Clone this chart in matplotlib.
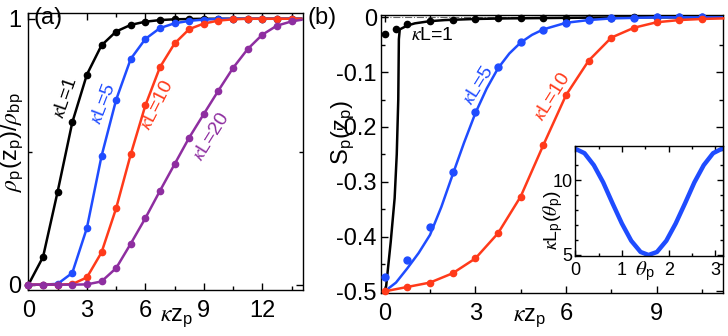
import matplotlib as mpl
import matplotlib.pyplot as plt
from matplotlib.ticker import MultipleLocator, FixedLocator, FixedFormatter

# ---- panel (a): rho_p(z_p)/rho_bp, markers every 0.75
za = [0, 0.75, 1.5, 2.25, 3, 3.75, 4.5, 5.25, 6, 6.75, 7.5, 8.25, 9, 9.75,
      10.5, 11.25, 12, 12.75, 13.5, 14.0]
rho_1 = [0, 0.104, 0.35, 0.61, 0.79, 0.90, 0.952, 0.977, 0.989, 0.995, 0.998,
         0.999, 1, 1, 1, 1, 1, 1, 1, 1]
rho_5 = [0, 0, 0.003, 0.044, 0.213, 0.483, 0.695, 0.849, 0.924, 0.965, 0.983,
         0.992, 0.997, 0.999, 1, 1, 1, 1, 1, 1]
rho_10 = [0, 0, 0, 0.002, 0.027, 0.121, 0.287, 0.49, 0.674, 0.818, 0.907,
          0.961, 0.982, 0.993, 0.998, 1, 1, 1, 1, 1]
rho_20 = [0, 0, 0, 0, 0.001, 0.012, 0.062, 0.154, 0.25, 0.353, 0.453, 0.553,
          0.642, 0.73, 0.815, 0.886, 0.94, 0.974, 0.99, 0.996]

# ---- panel (b): S_p(z_p), simulation points + theory lines
zb_pts1 = [0, 0.375, 0.75, 1.5, 2.25, 3, 3.75, 4.5, 5.25, 6, 6.75, 7.5, 8.25,
           9, 9.75, 10.5]
S_pts1 = [-0.030, -0.022, -0.012, -0.006, -0.004, -0.003, -0.002, -0.002,
          -0.001, -0.001, -0.001, -0.001, 0, 0, 0, 0]
zb_line1 = [0, 0.05, 0.2, 0.33, 0.4, 0.45, 0.47, 0.5, 0.75, 1.0, 1.5, 2, 3, 4,
            6, 8, 11.2]
S_line1 = [-0.5, -0.49, -0.41, -0.33, -0.25, -0.15, -0.04, -0.022, -0.015,
           -0.011, -0.007, -0.005, -0.003, -0.002, -0.001, 0, 0]

zb_pts = [0, 0.75, 1.5, 2.25, 3, 3.75, 4.5, 5.25, 6, 6.75, 7.5, 8.25, 9, 9.75,
          10.5]
S_pts5 = [-0.473, -0.442, -0.382, -0.282, -0.173, -0.091, -0.045, -0.023,
          -0.011, -0.005, -0.002, -0.001, 0, 0, 0]
zb_line5 = [0, 0.375, 0.75, 1.125, 1.5, 1.875, 2.25, 2.625, 3, 3.375, 3.75,
            4.125, 4.5, 4.875, 5.25, 6, 6.75, 7.5, 8.25, 9, 11.2]
S_line5 = [-0.5, -0.484, -0.458, -0.430, -0.397, -0.346, -0.287, -0.229,
           -0.175, -0.130, -0.093, -0.066, -0.046, -0.032, -0.022, -0.010,
           -0.005, -0.002, -0.001, 0, 0]

zb_10 = [0, 0.75, 1.5, 2.25, 3, 3.75, 4.5, 5.25, 6, 6.75, 7.5, 8.25, 9, 9.75,
         10.5, 11.2]
S_10 = [-0.5, -0.492, -0.484, -0.467, -0.44, -0.394, -0.327, -0.233, -0.142,
        -0.079, -0.037, -0.019, -0.009, -0.005, -0.003, -0.002]

# ---- inset: kappa L_p(theta_p)
theta = [0.0, 0.2, 0.4, 0.6, 0.8, 1.0, 1.2, 1.4, 1.57, 1.75, 1.95, 2.15,
         2.35, 2.55, 2.75, 2.95, 3.14]
kLp = [12.1, 11.8, 11.0, 9.85, 8.45, 7.1, 5.95, 5.2, 5.0, 5.2, 5.95, 7.1,
       8.45, 9.85, 11.0, 11.8, 12.1]

black = 'k'
blue = '#1f4cff'
red = '#ff3a1a'
purple = '#8e2ea0'

# configuration
mpl.rcParams['font.family'] = ['Liberation Sans', 'DejaVu Sans']
mpl.rcParams['font.size'] = 17
mpl.rcParams['mathtext.fontset'] = 'custom'
mpl.rcParams['mathtext.rm'] = 'Liberation Sans'
mpl.rcParams['mathtext.it'] = 'STIXGeneral:italic'
mpl.rcParams['axes.unicode_minus'] = False
mpl.rcParams['axes.linewidth'] = 1.0


def style_ticks(ax, size):
    ax.tick_params(which='both', direction='in', top=True, right=True,
                   labelsize=size, width=1.0)
    ax.tick_params(which='major', length=5)
    ax.tick_params(which='minor', length=3)


fig = plt.figure(figsize=(7.28, 3.36), dpi=100)
axA = fig.add_axes([0.0385, 0.137, 0.378, 0.823])
axB = fig.add_axes([0.5234, 0.128, 0.470, 0.827])
axI = fig.add_axes([0.790, 0.238, 0.203, 0.327])

# panel (a)
for y, c in [(rho_1, black), (rho_5, blue), (rho_10, red), (rho_20, purple)]:
    axA.plot(za, y, color=c, lw=1.8, marker='o', ms=4.5,
             markevery=slice(0, -1), clip_on=False, zorder=3)
axA.set_xlim(-0.02, 14.1)
axA.set_ylim(-0.02, 1.02)
axA.xaxis.set_major_locator(FixedLocator([0, 3, 6, 9, 12]))
axA.xaxis.set_minor_locator(MultipleLocator(1.5))
axA.yaxis.set_major_locator(FixedLocator([0, 1]))
axA.yaxis.set_minor_locator(FixedLocator([0.5]))
style_ticks(axA, 17)
axA.tick_params(axis='x', pad=7)
axA.tick_params(axis='y', pad=5)

lab_a = [(r'$\kappa$L=1', 65.7, 98, 71, black),
         (r'$\kappa$L=5', 104, 104, 69, blue),
         (r'$\kappa$L=10', 157, 105, 63, red),
         (r'$\kappa$L=20', 212, 137, 58, purple)]
for s, px, py, rot, c in lab_a:
    fig.text(px / 728, 1 - py / 336, s, color=c, rotation=rot, fontsize=14,
             ha='center', va='center', rotation_mode='anchor')

fig.text(48 / 728, 1 - 18 / 336, '(a)', ha='center', va='center')
fig.text(322 / 728, 1 - 18 / 336, '(b)', ha='center', va='center')
fig.text(12 / 728, 1 - 142 / 336,
         r'$\rho_\mathrm{p}$(z$_\mathrm{p}$)/$\rho_\mathrm{bp}$',
         rotation=90, ha='center', va='center', fontsize=17)
fig.text(177 / 728, 1 - 318 / 336, r'$\kappa$z$_\mathrm{p}$',
         ha='center', va='center', fontsize=17)

# panel (b)
axB.axhline(0, color='0.4', lw=0.8, ls='-.', zorder=1)
axB.plot(zb_line1, S_line1, color=black, lw=1.8, zorder=3)
axB.plot(zb_pts1, S_pts1, 'o', color=black, ms=4.5, zorder=3, clip_on=False)
axB.plot(zb_line5, S_line5, color=blue, lw=1.8, zorder=3)
axB.plot(zb_pts, S_pts5, 'o', color=blue, ms=5, zorder=3, clip_on=False)
axB.plot(zb_10, S_10, color=red, lw=1.8, marker='o', ms=4.5,
         markevery=slice(0, -1), zorder=3, clip_on=False)
axB.set_xlim(-0.12, 11.2)
axB.set_ylim(-0.503, 0.004)
axB.xaxis.set_major_locator(FixedLocator([0, 3, 6, 9]))
axB.xaxis.set_minor_locator(MultipleLocator(1.5))
yt = [0, -0.1, -0.2, -0.3, -0.4, -0.5]
axB.yaxis.set_major_locator(FixedLocator(yt))
axB.yaxis.set_major_formatter(FixedFormatter(['0', '-0.1', '-0.2', '-0.3',
                                              '-0.4', '-0.5']))
axB.yaxis.set_minor_locator(MultipleLocator(0.05))
style_ticks(axB, 17)
axB.tick_params(axis='x', pad=7)
axB.tick_params(axis='y', pad=3)

fig.text(432 / 728, 1 - 35 / 336, r'$\kappa$L=1', color=black, fontsize=14,
         ha='center', va='center')
fig.text(479 / 728, 1 - 85 / 336, r'$\kappa$L=5', color=blue, fontsize=14,
         rotation=58, ha='center', va='center', rotation_mode='anchor')
fig.text(553 / 728, 1 - 97 / 336, r'$\kappa$L=10', color=red, fontsize=14,
         rotation=58, ha='center', va='center', rotation_mode='anchor')
fig.text(343 / 728, 1 - 132 / 336, r'S$_\mathrm{p}$(z$_\mathrm{p}$)',
         rotation=90, ha='center', va='center', fontsize=17)
fig.text(530 / 728, 1 - 318 / 336, r'$\kappa$z$_\mathrm{p}$',
         ha='center', va='center', fontsize=17)

# inset
axI.plot(theta, kLp, color=blue, lw=3.2)
axI.set_xlim(0, 3.16)
axI.set_ylim(4.93, 12.27)
axI.xaxis.set_major_locator(FixedLocator([0, 1, 2, 3]))
axI.xaxis.set_minor_locator(MultipleLocator(0.5))
axI.yaxis.set_major_locator(FixedLocator([5, 10]))
axI.yaxis.set_minor_locator(MultipleLocator(1))
style_ticks(axI, 13)
axI.tick_params(which='major', length=4)
axI.tick_params(which='minor', length=2)
axI.tick_params(axis='x', pad=4)
axI.tick_params(axis='y', pad=2)
fig.text(553 / 728, 1 - 220 / 336,
         r'$\kappa$L$_\mathrm{p}$($\theta_\mathrm{p}$)',
         rotation=90, ha='center', va='center', fontsize=14)
fig.text(645 / 728, 1 - 271 / 336, r'$\theta_\mathrm{p}$',
         ha='center', va='center', fontsize=15)

fig.savefig('out.png', dpi=100)
